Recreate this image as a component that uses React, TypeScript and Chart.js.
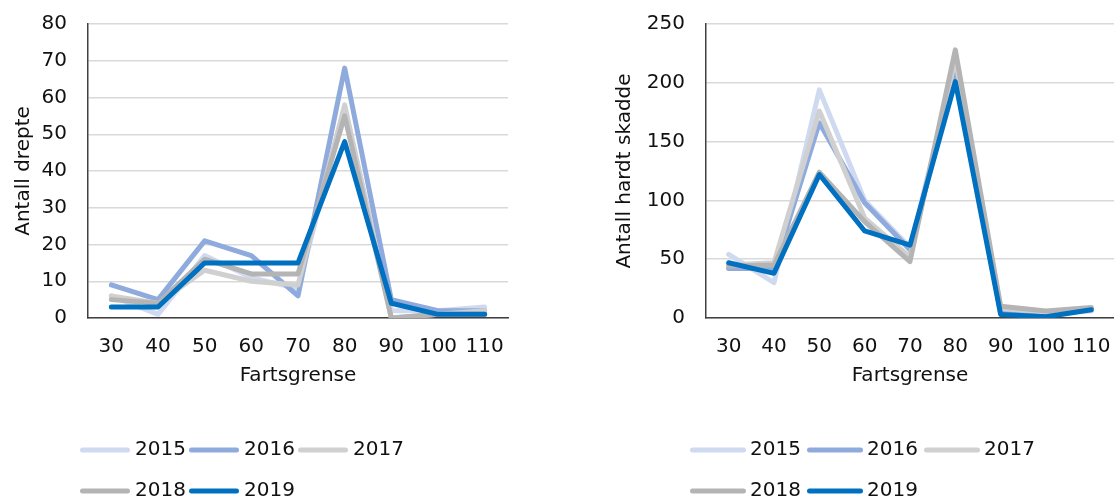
import { useEffect, useRef } from "react";
import { Chart, registerables } from "chart.js";

Chart.register(...registerables);

// Speed limits (km/h) on the category axis
const speedLimits = ["30", "40", "50", "60", "70", "80", "90", "100", "110"];
const years = ["2015", "2016", "2017", "2018", "2019"];
const yearColors = ["#cfdaf1", "#8faadc", "#d0d0d0", "#b4b4b4", "#0070c0"];

// Killed per speed limit
const killed2015 = [6, 1, 17, 11, 8, 57, 2, 2, 3];
const killed2016 = [9, 5, 21, 17, 6, 68, 5, 2, 2];
const killed2017 = [6, 4, 13, 10, 9, 58, 0, 1, 2];
const killed2018 = [5, 4, 16, 12, 12, 55, 0, 1, 1];
const killed2019 = [3, 3, 15, 15, 15, 48, 4, 1, 1];

// Seriously injured per speed limit
const injured2015 = [54, 30, 194, 100, 60, 215, 6, 4, 6];
const injured2016 = [42, 42, 166, 98, 58, 211, 4, 2, 8];
const injured2017 = [45, 47, 176, 85, 52, 220, 8, 5, 7];
const injured2018 = [44, 45, 124, 82, 48, 228, 10, 6, 9];
const injured2019 = [47, 38, 122, 74, 62, 201, 3, 1, 7];

const killedAxis = { max: 80, step: 10 };
const injuredAxis = { max: 250, step: 50 };

const FONT = "'DejaVu Sans', sans-serif";
const TEXT = "#111111";

type LegendLayout = { x: number; rows: number[]; lineLen: number; gap: number; pitch: number };

const lineLegend = (layout: LegendLayout) => ({
  id: "lineLegend",
  afterDraw(chart: any) {
    const ctx = chart.ctx;
    ctx.save();
    ctx.font = `20px ${FONT}`;
    ctx.textBaseline = "middle";
    ctx.textAlign = "left";
    chart.data.datasets.forEach((ds: any, i: number) => {
      const row = Math.floor(i / 3);
      const col = i % 3;
      const x = layout.x + col * layout.pitch;
      const y = layout.rows[row];
      ctx.strokeStyle = ds.borderColor;
      ctx.lineWidth = 5;
      ctx.lineCap = "round";
      ctx.beginPath();
      ctx.moveTo(x + 2.5, y);
      ctx.lineTo(x + layout.lineLen - 2.5, y);
      ctx.stroke();
      ctx.fillStyle = TEXT;
      ctx.fillText(ds.label, x + layout.lineLen + layout.gap, y);
    });
    ctx.restore();
  },
});

function makeConfig(
  series: number[][],
  axis: { max: number; step: number },
  yTitle: string,
  padLeft: number,
  padRight: number,
  yWidth: number,
  legend: LegendLayout
): any {
  return {
    type: "line",
    data: {
      labels: speedLimits,
      datasets: series.map((values, i) => ({
        label: years[i],
        data: values,
        borderColor: yearColors[i],
        backgroundColor: yearColors[i],
        borderWidth: 5,
        borderJoinStyle: "round",
        borderCapStyle: "round",
        pointRadius: 0,
        pointHoverRadius: 0,
        tension: 0,
        fill: false,
        order: series.length - 1 - i,
      })),
    },
    options: {
      animation: false,
      responsive: false,
      events: [],
      layout: { padding: { left: padLeft, right: padRight, top: 24, bottom: 112 } },
      plugins: { legend: { display: false }, tooltip: { enabled: false } },
      scales: {
        x: {
          offset: true,
          grid: { display: false, drawTicks: false },
          border: { display: true, color: "#404040", width: 1.5 },
          ticks: { color: TEXT, font: { family: FONT, size: 20 }, padding: 17, maxRotation: 0, autoSkip: false },
          title: { display: true, text: "Fartsgrense", color: TEXT, font: { family: FONT, size: 20 }, padding: 0 },
          afterFit(scale: any) {
            scale.height = 70;
            scale.paddingLeft = 0;
            scale.paddingRight = 0;
          },
        },
        y: {
          min: 0,
          max: axis.max,
          grid: { color: "#d9d9d9", lineWidth: 1.5, drawTicks: false },
          border: { display: true, color: "#404040", width: 1.5 },
          ticks: { stepSize: axis.step, color: TEXT, font: { family: FONT, size: 20 }, padding: 21 },
          title: { display: true, text: yTitle, color: TEXT, font: { family: FONT, size: 20 }, padding: 0 },
          afterFit(scale: any) {
            scale.width = yWidth;
            scale.paddingTop = 0;
            scale.paddingBottom = 0;
          },
        },
      },
    },
    plugins: [lineLegend(legend)],
  };
}

export default function App() {
  const leftRef = useRef<HTMLCanvasElement>(null);
  const rightRef = useRef<HTMLCanvasElement>(null);

  useEffect(() => {
    const left = new Chart(
      leftRef.current!,
      makeConfig(
        [killed2015, killed2016, killed2017, killed2018, killed2019],
        killedAxis,
        "Antall drepte",
        12,
        49,
        76,
        { x: 80, rows: [450, 491], lineLen: 50, gap: 5, pitch: 109 }
      )
    );
    const right = new Chart(
      rightRef.current!,
      makeConfig(
        [injured2015, injured2016, injured2017, injured2018, injured2019],
        injuredAxis,
        "Antall hardt skadde",
        56,
        0,
        93,
        { x: 133, rows: [450, 491], lineLen: 56, gap: 4, pitch: 117 }
      )
    );
    return () => {
      left.destroy();
      right.destroy();
    };
  }, []);

  return (
    <div style={{ position: "absolute", left: 0, top: 0, width: 1114, height: 500, background: "#ffffff" }}>
      <canvas ref={leftRef} width={557} height={500} style={{ position: "absolute", left: 0, top: 0 }} />
      <canvas ref={rightRef} width={557} height={500} style={{ position: "absolute", left: 557, top: 0 }} />
    </div>
  );
}
